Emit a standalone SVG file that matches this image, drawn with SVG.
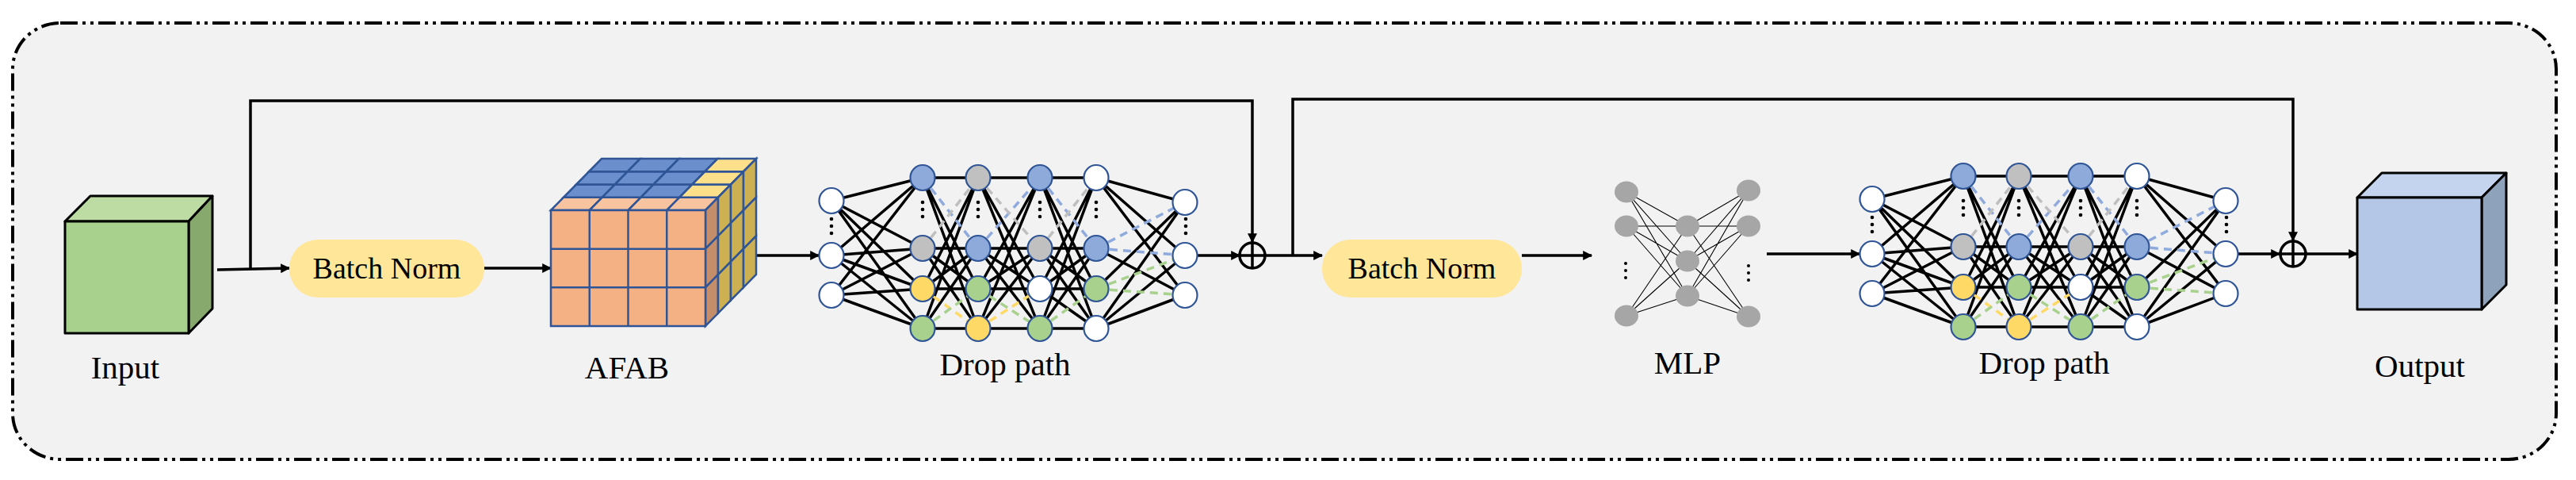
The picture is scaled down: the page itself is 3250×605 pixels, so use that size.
<svg xmlns="http://www.w3.org/2000/svg" xmlns:xlink="http://www.w3.org/1999/xlink" width="3250" height="605" viewBox="0 0 3250 605">
<style>
text{font-family:'Liberation Serif',serif;fill:#000}
.lbl{font-size:41px;text-anchor:middle}
.bn{font-size:38px;text-anchor:middle}
.ln{fill:none;stroke:#000;stroke-width:3.5}
.nn{stroke:#2f5597;stroke-width:2.2}
.cube{stroke:#000;stroke-width:3;stroke-linejoin:round}
.af{stroke:#2f5597;stroke-width:2.5}
.dsh{fill:none;stroke-width:3.5;stroke-dasharray:10 7}
.mlp{fill:#a6a6a6}
.ml{fill:none;stroke:#000;stroke-width:1.1}
</style>
<defs>
<marker id="ah" viewBox="0 0 10 10" refX="9" refY="5" markerWidth="14" markerHeight="12" markerUnits="userSpaceOnUse" orient="auto"><path d="M0,0L10,5L0,10z" fill="#000"/></marker>
<g id="dp">
<path class="ln" d="M0,-69L115,-98M0,-69L115,-9M0,-69L115,42M0,-69L115,92M0,0L115,-98M0,0L115,-9M0,0L115,42M0,0L115,92M0,50L115,-98M0,50L115,-9M0,50L115,42M0,50L115,92"/>
<path class="ln" d="M115,-98L185,-98M115,-98L185,42M115,-98L185,92M115,-9L185,-9M115,-9L185,42M115,-9L185,92M115,42L185,-98M115,42L185,-9M115,42L185,42M115,92L185,-98M115,92L185,-9M115,92L185,92"/>
<path class="ln" d="M185,-98L263,-98M185,-98L263,42M185,-98L263,92M185,-9L263,-9M185,-9L263,42M185,-9L263,92M185,42L263,-98M185,42L263,-9M185,42L263,42M185,92L263,-98M185,92L263,-9M185,92L263,92"/>
<path class="ln" d="M263,-98L334,-98M263,-98L334,42M263,-98L334,92M263,-9L334,-9M263,-9L334,42M263,-9L334,92M263,42L334,-98M263,42L334,-9M263,42L334,42M263,42L334,92M263,92L334,-98M263,92L334,-9M263,92L334,92"/>
<path class="ln" d="M334,-98L446,-67M334,-98L446,0M334,-98L446,50M334,-9L446,50M334,42L446,-67M334,92L446,-67M334,92L446,0M334,92L446,50"/>
<path class="dsh" stroke="#8faadc" d="M115,-98L185,-9M185,-9L263,-98M263,-98L334,-9M334,-9L446,-67M334,-9L446,0"/>
<path class="dsh" stroke="#bfbfbf" d="M115,-9L185,-98M185,-98L263,-9M263,-9L334,-98"/>
<path class="dsh" stroke="#ffd966" d="M115,42L185,92M185,92L263,42"/>
<path class="dsh" stroke="#a9d18e" d="M115,92L185,42M185,42L263,92M263,92L334,42M334,42L446,0M334,42L446,50"/>
<g class="nn">
<ellipse cx="0" cy="-69" rx="15.5" ry="16" fill="#fff"/><ellipse cx="0" cy="0" rx="15.5" ry="16" fill="#fff"/><ellipse cx="0" cy="50" rx="15.5" ry="16" fill="#fff"/>
<ellipse cx="115" cy="-98" rx="15.5" ry="16" fill="#8eaadb"/><ellipse cx="115" cy="-9" rx="15.5" ry="16" fill="#c0c0c0"/><ellipse cx="115" cy="42" rx="15.5" ry="16" fill="#ffd966"/><ellipse cx="115" cy="92" rx="15.5" ry="16" fill="#a9d18e"/>
<ellipse cx="185" cy="-98" rx="15.5" ry="16" fill="#c0c0c0"/><ellipse cx="185" cy="-9" rx="15.5" ry="16" fill="#8eaadb"/><ellipse cx="185" cy="42" rx="15.5" ry="16" fill="#a9d18e"/><ellipse cx="185" cy="92" rx="15.5" ry="16" fill="#ffd966"/>
<ellipse cx="263" cy="-98" rx="15.5" ry="16" fill="#8eaadb"/><ellipse cx="263" cy="-9" rx="15.5" ry="16" fill="#c0c0c0"/><ellipse cx="263" cy="42" rx="15.5" ry="16" fill="#fff"/><ellipse cx="263" cy="92" rx="15.5" ry="16" fill="#a9d18e"/>
<ellipse cx="334" cy="-98" rx="15.5" ry="16" fill="#fff"/><ellipse cx="334" cy="-9" rx="15.5" ry="16" fill="#8eaadb"/><ellipse cx="334" cy="42" rx="15.5" ry="16" fill="#a9d18e"/><ellipse cx="334" cy="92" rx="15.5" ry="16" fill="#fff"/>
<ellipse cx="446" cy="-67" rx="15.5" ry="16" fill="#fff"/><ellipse cx="446" cy="0" rx="15.5" ry="16" fill="#fff"/><ellipse cx="446" cy="50" rx="15.5" ry="16" fill="#fff"/>
</g>
<g fill="#000">
<circle cx="0" cy="-46" r="2.3"/><circle cx="0" cy="-37" r="2.3"/><circle cx="0" cy="-28" r="2.3"/>
<circle cx="447" cy="-46" r="2.3"/><circle cx="447" cy="-37" r="2.3"/><circle cx="447" cy="-28" r="2.3"/>
<circle cx="115" cy="-67" r="2.3"/><circle cx="115" cy="-58" r="2.3"/><circle cx="115" cy="-49" r="2.3"/>
<circle cx="185" cy="-67" r="2.3"/><circle cx="185" cy="-58" r="2.3"/><circle cx="185" cy="-49" r="2.3"/>
<circle cx="263" cy="-67" r="2.3"/><circle cx="263" cy="-58" r="2.3"/><circle cx="263" cy="-49" r="2.3"/>
<circle cx="334" cy="-67" r="2.3"/><circle cx="334" cy="-58" r="2.3"/><circle cx="334" cy="-49" r="2.3"/>
</g>
</g>
</defs>
<rect x="16" y="29" width="3209" height="550" rx="60" ry="58" fill="#f2f2f2" stroke="#000" stroke-width="4" stroke-dasharray="22 6 4 6 4 6"/>

<g id="connectors" class="ln">
<path d="M274,340L365,338" marker-end="url(#ah)"/>
<path d="M316,339V127H1580V305" marker-end="url(#ah)"/>
<path d="M611,338H695" marker-end="url(#ah)"/>
<path d="M953,322H1033" marker-end="url(#ah)"/>
<path d="M1511,322H1564" marker-end="url(#ah)"/>
<path d="M1596,322H1668" marker-end="url(#ah)"/>
<path d="M1631,322V125H2893V303" marker-end="url(#ah)"/>
<path d="M1920,322H2008" marker-end="url(#ah)"/>
<path d="M2229,320H2346" marker-end="url(#ah)"/>
<path d="M2824,320H2876" marker-end="url(#ah)"/>
<path d="M2910,320H2974" marker-end="url(#ah)"/>
</g>

<g id="input">
<polygon class="cube" points="82,279 114,247 268,247 238,279" fill="#bcdca4"/>
<polygon class="cube" points="238,279 268,247 268,389 238,420" fill="#87a96e"/>
<rect class="cube" x="82" y="279" width="156" height="141" fill="#a9d18e"/>
<text class="lbl" x="158" y="477">Input</text>
</g>

<g id="bn1">
<rect x="365" y="302" width="246" height="73" rx="36" fill="#ffe699"/>
<text class="bn" x="488" y="351">Batch Norm</text>
</g>

<g id="afab" class="af">
<g fill="#f8c4a0">
<polygon points="695,265 711,248.75 759.75,248.75 743.75,265"/>
<polygon points="743.75,265 759.75,248.75 808.5,248.75 792.5,265"/>
<polygon points="792.5,265 808.5,248.75 857.25,248.75 841.25,265"/>
<polygon points="841.25,265 857.25,248.75 906,248.75 890,265"/>
</g>
<g fill="#6b8fcc">
<polygon points="711,248.75 727,232.5 775.75,232.5 759.75,248.75"/>
<polygon points="759.75,248.75 775.75,232.5 824.5,232.5 808.5,248.75"/>
<polygon points="808.5,248.75 824.5,232.5 873.25,232.5 857.25,248.75"/>
<polygon points="727,232.5 743,216.25 791.75,216.25 775.75,232.5"/>
<polygon points="775.75,232.5 791.75,216.25 840.5,216.25 824.5,232.5"/>
<polygon points="824.5,232.5 840.5,216.25 889.25,216.25 873.25,232.5"/>
<polygon points="743,216.25 759,200 807.75,200 791.75,216.25"/>
<polygon points="791.75,216.25 807.75,200 856.5,200 840.5,216.25"/>
<polygon points="840.5,216.25 856.5,200 905.25,200 889.25,216.25"/>
</g>
<g fill="#ffe08a">
<polygon points="857.25,248.75 873.25,232.5 922,232.5 906,248.75"/>
<polygon points="873.25,232.5 889.25,216.25 938,216.25 922,232.5"/>
<polygon points="889.25,216.25 905.25,200 954,200 938,216.25"/>
</g>
<g fill="#c48e6a">
<polygon points="890,265 906,248.75 906,297.4 890,313.7"/>
<polygon points="890,313.7 906,297.4 906,346.1 890,362.3"/>
<polygon points="890,362.3 906,346.1 906,394.8 890,411"/>
</g>
<g fill="#ccb052">
<polygon points="906,248.75 922,232.5 922,281.2 906,297.4"/>
<polygon points="922,232.5 938,216.25 938,265 922,281.2"/>
<polygon points="938,216.25 954,200 954,248.7 938,265"/>
<polygon points="906,297.4 922,281.2 922,329.8 906,346.1"/>
<polygon points="922,281.2 938,265 938,313.6 922,329.8"/>
<polygon points="938,265 954,248.7 954,297.4 938,313.6"/>
<polygon points="906,346.1 922,329.8 922,378.5 906,394.8"/>
<polygon points="922,329.8 938,313.6 938,362.3 922,378.5"/>
<polygon points="938,313.6 954,297.4 954,346 938,362.3"/>
</g>
<rect x="695" y="265" width="195" height="146" fill="#f4b183"/>
<path fill="none" d="M743.75,265V411M792.5,265V411M841.25,265V411M695,313.7H890M695,362.3H890"/>
<text class="lbl" x="791" y="477" stroke="none">AFAB</text>
</g>

<g id="droppath1">
<use xlink:href="#dp" href="#dp" transform="translate(1049,322)"/>
<text class="lbl" x="1268" y="473">Drop path</text>
</g>

<g id="add1">
<circle cx="1580" cy="322" r="16" fill="none" stroke="#000" stroke-width="3.5"/>
<path class="ln" d="M1564,322H1596M1580,306V338"/>
</g>

<g id="bn2">
<rect x="1668" y="302" width="252" height="73" rx="36" fill="#ffe699"/>
<text class="bn" x="1794" y="351">Batch Norm</text>
</g>

<g id="mlp">
<path class="ml" d="M2052,242L2129,285M2052,242L2129,329M2052,242L2129,373M2052,285L2129,285M2052,285L2129,329M2052,285L2129,373M2052,398L2129,285M2052,398L2129,329M2052,398L2129,373M2129,285L2206,240M2129,285L2206,285M2129,285L2206,399M2129,329L2206,240M2129,329L2206,285M2129,329L2206,399M2129,373L2206,240M2129,373L2206,285M2129,373L2206,399"/>
<ellipse class="mlp" cx="2052" cy="242" rx="15" ry="13.5"/><ellipse class="mlp" cx="2052" cy="285" rx="15" ry="13.5"/><ellipse class="mlp" cx="2052" cy="398" rx="15" ry="13.5"/>
<ellipse class="mlp" cx="2129" cy="285" rx="15" ry="13.5"/><ellipse class="mlp" cx="2129" cy="329" rx="15" ry="13.5"/><ellipse class="mlp" cx="2129" cy="373" rx="15" ry="13.5"/>
<ellipse class="mlp" cx="2206" cy="240" rx="15" ry="13.5"/><ellipse class="mlp" cx="2206" cy="285" rx="15" ry="13.5"/><ellipse class="mlp" cx="2206" cy="399" rx="15" ry="13.5"/>
<circle cx="2051" cy="332" r="2"/><circle cx="2051" cy="341" r="2"/><circle cx="2051" cy="350" r="2"/>
<circle cx="2206" cy="335" r="2"/><circle cx="2206" cy="344" r="2"/><circle cx="2206" cy="353" r="2"/>
<text class="lbl" x="2129" y="471">MLP</text>
</g>

<g id="droppath2">
<use xlink:href="#dp" href="#dp" transform="translate(2362,320)"/>
<text class="lbl" x="2579" y="471">Drop path</text>
</g>

<g id="add2">
<circle cx="2893" cy="320" r="16" fill="none" stroke="#000" stroke-width="3.5"/>
<path class="ln" d="M2877,320H2909M2893,304V336"/>
</g>

<g id="output">
<polygon class="cube" points="2974,249 3005,218 3162,218 3131,249" fill="#c5d4ee"/>
<polygon class="cube" points="3131,249 3162,218 3162,359 3131,390" fill="#8fa2bb"/>
<rect class="cube" x="2974" y="249" width="157" height="141" fill="#b4c7e7"/>
<text class="lbl" x="3053" y="475">Output</text>
</g>
</svg>
